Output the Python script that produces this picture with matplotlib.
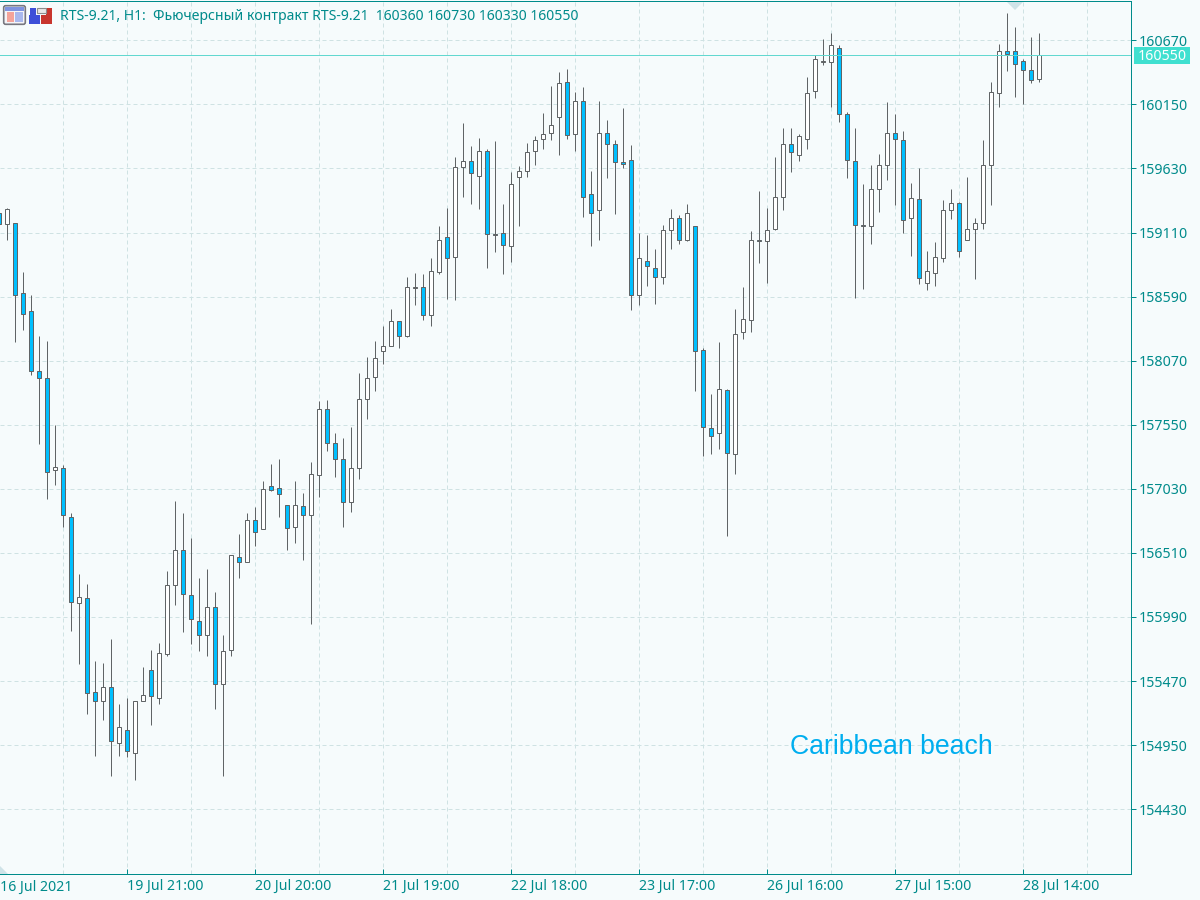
import numpy as np
import matplotlib
matplotlib.use('Agg')
import matplotlib.pyplot as plt
from matplotlib.patches import Rectangle, Polygon, FancyBboxPatch

opens = [159270,159180,159190,158620,158470,157990,157930,157180,157200,156800,
         156100,156140,155380,155310,155420,154970,155070,154890,155310,155560,
         155330,155690,156250,156530,156170,155960,155840,156070,155450,155720,
         156480,156440,156780,156700,157050,157040,156900,156720,156890,156820,
         157140,157680,157400,157270,156920,157200,157760,157940,158150,158190,
         158390,158270,158660,158670,158440,158790,159070,158910,159640,159690,
         159570,159770,159100,159110,159000,159560,159610,159770,159870,159920,
         160050,160330,159910,160180,159420,159290,159920,159830,159680,159700,
         158600,158880,158820,158750,159130,159230,159050,159160,158160,157520,
         157480,157830,157310,158300,158400,159050,159040,159140,159400,159830,
         159740,159870,160260,160490,160490,160610,160070,159690,159170,159160,
         159460,159660,159920,159860,159230,159380,158700,158780,158900,159290,
         159350,159050,159140,159190,159660,160240,160580,160580,160500,160430,160360]
closes = [159180,159300,158600,158450,157990,157930,157170,157210,156820,156110,
          156150,155370,155310,155420,154980,155100,154900,155310,155360,155350,
          155700,156250,156530,156180,155970,155840,156070,155450,155710,156490,
          156440,156780,156680,157030,157020,156990,156710,156900,156820,157150,
          157680,157400,157270,156920,157200,157760,157930,158090,158190,158390,
          158270,158670,158670,158440,158800,159050,158900,159640,159690,159590,
          159770,159100,159090,159010,159500,159610,159760,159860,159910,159980,
          160320,159900,160180,159400,159270,159920,159830,159680,159670,158600,
          158900,158840,158750,159130,159230,159050,159270,158150,157530,157460,
          157840,157320,158290,158410,159050,159040,159130,159400,159830,159760,
          159890,160240,160520,160500,160630,160070,159700,159170,159160,159460,
          159660,159920,159870,159210,159390,158740,158800,158910,159290,159350,
          158960,159140,159190,159660,160250,160580,160560,160480,160430,160350,160550]
highs = [159280,159310,159190,158790,158600,158270,158230,157550,157220,156830,
         156340,156260,155630,155620,155810,155280,155330,155310,155580,155720,
         155780,156360,156930,156830,156630,156310,156380,156190,155840,156490,
         156660,156830,156880,157090,157230,157270,156900,157090,157000,157250,
         157740,157750,157480,157440,157530,157970,158100,158230,158350,158490,
         158390,158750,158780,158770,158900,159160,159310,159720,160000,159810,
         159880,159790,159850,159340,159600,159650,159840,159890,160080,160300,
         160410,160440,160250,160290,159610,160180,160020,159860,160120,159820,
         159110,159090,158980,159170,159300,159250,159340,159160,158170,157800,
         158220,157840,158490,158670,159120,159450,159310,159720,159960,159960,
         159910,160370,160550,160680,160730,160630,160090,159960,159500,159660,
         159750,160170,160070,159930,159510,159630,158960,159030,159370,159460,
         159360,159560,159230,159860,160330,160640,160890,160780,160520,160700,160730]
lows = [159160,159050,158220,158320,157950,157390,156950,157060,156720,155880,
        155610,155200,154860,155150,154700,154860,154850,154670,155310,155110,
        155280,155670,156090,155870,155770,155710,155670,155240,154700,155670,
        156310,156440,156570,156700,157010,156800,156530,156590,156450,155930,
        156960,157340,157130,156720,156840,157110,157600,157820,158040,158190,
        158170,158260,158520,158400,158350,158770,158570,158560,159400,159340,
        159300,158820,158950,158770,158870,159160,159560,159660,159790,159860,
        159740,159870,159770,159240,159000,159050,159550,159260,159630,158480,
        158520,158680,158530,158690,158980,159020,159040,157820,157300,157310,
        157350,156650,157150,158250,158300,158860,158700,159130,159290,159600,
        159690,159790,160200,160470,160130,160010,159550,158580,158650,159020,
        159280,159540,159330,159110,158920,158690,158640,158680,158870,159220,
        158910,159050,158730,159140,159330,160130,160420,160210,160150,160320,160330]

price_ticks = [160670,160150,159630,159110,158590,158070,157550,157030,156510,155990,155470,154950,154430]
time_labels = ['19 Jul 21:00','20 Jul 20:00','21 Jul 19:00','22 Jul 18:00','23 Jul 17:00',
               '26 Jul 16:00','27 Jul 15:00','28 Jul 14:00']
first_label = '16 Jul 2021'
header = 'RTS-9.21, H1:  Фьючерсный контракт RTS-9.21  160360 160730 160330 160550'
last_price = 160550

bg = '#f6fbfc'
teal = '#008b8b'
gridc = '#cfe2e3'
candlec = '#606466'
bearc = '#00bfff'
font = 'Noto Sans'
lw1 = 0.72  # one pixel at dpi 100

fig = plt.figure(figsize=(12, 9), dpi=100, facecolor=bg)
ax = fig.add_axes([0, 1 - 874.25 / 900, 1131.25 / 1200, (874.25 - 1.5) / 900], facecolor=bg)
ax.set_xlim(0.09375, 141.5)
ax.set_ylim(153902, 160985)

x = np.arange(len(opens))
o = np.array(opens)
c = np.array(closes)
up = c >= o

# grid first, candles on top
for gx in range(8, 137, 8):
    ax.axvline(gx, color=gridc, lw=lw1, ls=(0, (4, 3)), zorder=1)
for p in price_ticks:
    ax.axhline(p, color=gridc, lw=lw1, ls=(0, (4, 3)), zorder=1)

ax.vlines(x, lows, highs, color=candlec, lw=lw1, zorder=2, snap=True)
bottoms = np.minimum(o, c)
heights = np.abs(c - o)
ax.bar(x[up], heights[up], 0.5, bottoms[up], color='white', edgecolor=candlec, lw=lw1, zorder=3)
ax.bar(x[~up], heights[~up], 0.5, bottoms[~up], color=bearc, edgecolor=candlec, lw=lw1, zorder=3)

ax.axhline(last_price, color='#62d8d0', lw=lw1, zorder=4)

ax.spines['left'].set_visible(False)
for s in ['top', 'right', 'bottom']:
    ax.spines[s].set_color(teal)
    ax.spines[s].set_linewidth(lw1)

ax.yaxis.tick_right()
ax.set_yticks(price_ticks)
ax.set_yticklabels([str(p) for p in price_ticks], fontsize=10.2, color=teal, family=font)
ax.tick_params(axis='y', length=3.6, width=lw1, color=teal, pad=1.5)

tick_idx = list(range(16, 137, 16))[:len(time_labels)]
ax.set_xticks(tick_idx)
ax.set_xticklabels(time_labels, fontsize=10.2, color=teal, family=font, ha='left')
ax.tick_params(axis='x', length=3.6, width=lw1, color=teal, pad=3, direction='in')

# overlay in plain pixel coordinates for the terminal decorations
ov = fig.add_axes([0, 0, 1, 1], facecolor='none')
ov.set_xlim(0, 1200)
ov.set_ylim(900, 0)
ov.axis('off')

ov.text(0, 887, first_label, fontsize=10.2, color=teal, family=font, va='center', ha='left')
ov.text(60, 17, header, fontsize=10.1, color=teal, family=font, va='center', ha='left')
ov.text(790, 747, 'Caribbean beach', fontsize=19.2, color='#00aeef', family='Liberation Sans',
        va='center', ha='left')

ov.add_patch(Rectangle((1134, 47), 56, 17, color='#40e0d0', lw=0))
ov.text(1162, 56, str(last_price), fontsize=10.2, color='white', family=font, va='center', ha='center')

ov.add_patch(Polygon([(1007, 2), (1023, 2), (1015, 10)], color='#cfe3e8', lw=0))
ov.add_patch(Polygon([(0, 866), (8, 874), (0, 874)], color='#cfe3e8', lw=0))

# toolbar icons
ov.add_patch(FancyBboxPatch((4, 6), 21, 18, boxstyle='round,pad=0.3,rounding_size=2',
                            fc='#f4f4f8', ec='#77777f', lw=1.2))
ov.add_patch(Rectangle((5, 7), 19, 4, color='#7f93e0', lw=0))
ov.add_patch(Rectangle((7, 12), 7, 10, color='#f4a39a', lw=0))
ov.add_patch(Rectangle((15, 12), 8, 10, color='#a9b8ee', lw=0))
ov.add_patch(Rectangle((29, 15), 11, 9, color='#3d4fd8', lw=0))
ov.add_patch(Rectangle((30, 8), 6, 8, color='#3d4fd8', lw=0))
ov.add_patch(Rectangle((41, 15), 11, 9, color='#c8352d', lw=0))
ov.add_patch(Rectangle((46, 8), 6, 8, color='#c8352d', lw=0))
ov.add_patch(Rectangle((37, 8), 9, 5, fc='#e8e8e8', ec='#8c8c8c', lw=0.8))

fig.savefig('out.png', dpi=100, facecolor=bg)
